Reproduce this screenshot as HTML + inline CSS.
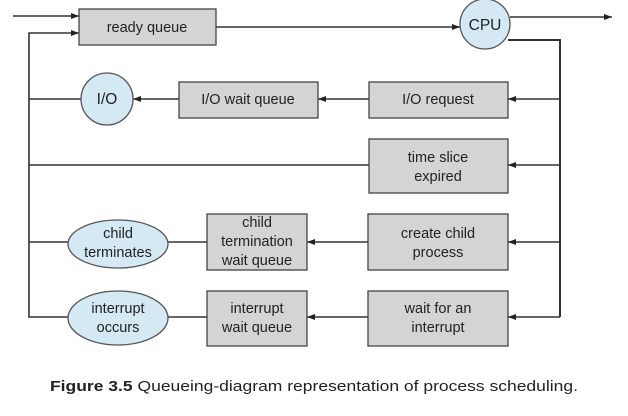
<!DOCTYPE html>
<html><head><meta charset="utf-8"><style>
html,body{margin:0;padding:0;background:#fff;}
svg{display:block;}
text{font-family:"Liberation Sans",sans-serif;font-size:14.5px;fill:#222;}
</style></head><body>
<svg width="628" height="416" viewBox="0 0 628 416" xmlns="http://www.w3.org/2000/svg">
<defs>
<marker id="a" markerWidth="8" markerHeight="6" refX="8" refY="3" orient="auto" markerUnits="userSpaceOnUse">
<path d="M0,0 L8,3 L0,6 Z" fill="#222"/></marker>
</defs>
<g stroke="#333" stroke-width="1.6" fill="none">
<line x1="13" y1="16" x2="79" y2="16" marker-end="url(#a)"/>
<polyline points="29,317 29,33 79,33" marker-end="url(#a)"/>
<line x1="216" y1="27" x2="460" y2="27" marker-end="url(#a)"/>
<line x1="510" y1="17" x2="612" y2="17" marker-end="url(#a)"/>
<polyline points="508,40 560,40 560,317" stroke-width="2"/>
<line x1="560" y1="99" x2="508" y2="99" marker-end="url(#a)"/>
<line x1="369" y1="99" x2="318" y2="99" marker-end="url(#a)"/>
<line x1="179" y1="99" x2="133" y2="99" marker-end="url(#a)"/>
<line x1="81" y1="99" x2="29" y2="99"/>
<line x1="560" y1="165" x2="508" y2="165" marker-end="url(#a)"/>
<line x1="369" y1="165" x2="29" y2="165"/>
<line x1="560" y1="242" x2="508" y2="242" marker-end="url(#a)"/>
<line x1="368" y1="242" x2="307" y2="242" marker-end="url(#a)"/>
<line x1="207" y1="242" x2="167" y2="242"/>
<line x1="68" y1="242" x2="29" y2="242"/>
<line x1="560" y1="317" x2="508" y2="317" marker-end="url(#a)"/>
<line x1="368" y1="317" x2="307" y2="317" marker-end="url(#a)"/>
<line x1="207" y1="317" x2="167" y2="317"/>
<line x1="68" y1="317" x2="28.2" y2="317"/>
</g>
<g fill="#d4d4d4" stroke="#444" stroke-width="1.3">
<rect x="79" y="9" width="137" height="36"/>
<rect x="179" y="82" width="139" height="36"/>
<rect x="369" y="82" width="139" height="36"/>
<rect x="369" y="139" width="139" height="54"/>
<rect x="207" y="214" width="100" height="56"/>
<rect x="368" y="214" width="140" height="56"/>
<rect x="207" y="291" width="100" height="55"/>
<rect x="368" y="291" width="140" height="55"/>
</g>
<g fill="#d5e9f5" stroke="#555" stroke-width="1.3">
<circle cx="485" cy="24" r="25"/>
<circle cx="107" cy="99" r="26"/>
<ellipse cx="118" cy="244" rx="50" ry="24"/>
<ellipse cx="118" cy="318" rx="50" ry="27"/>
</g>
<g text-anchor="middle">
<text x="147" y="32">ready queue</text>
<text x="485" y="30" style="font-size:15.5px">CPU</text>
<text x="107" y="104" style="font-size:15.5px">I/O</text>
<text x="248" y="104">I/O wait queue</text>
<text x="438" y="104">I/O request</text>
<text x="438" y="162">time slice</text>
<text x="438" y="181">expired</text>
<text x="257" y="227">child</text>
<text x="257" y="246">termination</text>
<text x="257" y="265">wait queue</text>
<text x="438" y="238">create child</text>
<text x="438" y="257">process</text>
<text x="118" y="238">child</text>
<text x="118" y="257">terminates</text>
<text x="257" y="313">interrupt</text>
<text x="257" y="332">wait queue</text>
<text x="438" y="313">wait for an</text>
<text x="438" y="332">interrupt</text>
<text x="118" y="313">interrupt</text>
<text x="118" y="332">occurs</text>
</g>
<text x="50" y="391" style="font-size:15px" textLength="528" lengthAdjust="spacingAndGlyphs"><tspan font-weight="bold">Figure 3.5</tspan>   Queueing-diagram representation of process scheduling.</text>
</svg>
</body></html>
